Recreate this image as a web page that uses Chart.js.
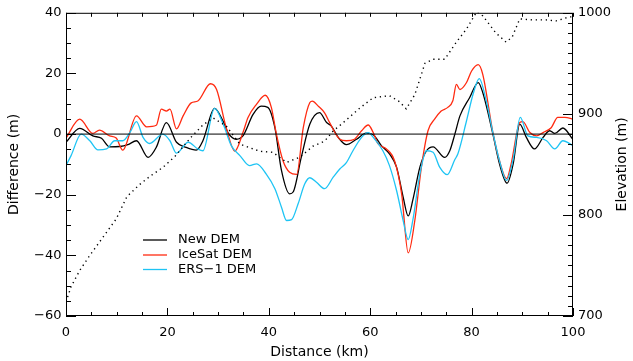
<!DOCTYPE html>
<html>
<head>
<meta charset="utf-8">
<script src="https://cdn.jsdelivr.net/npm/chart.js@4"></script>
<style>
  html, body { margin: 0; padding: 0; background: #fff; }
  #wrap { width: 633px; height: 361px; }
</style>
</head>
<body>
<div id="wrap"><canvas id="c" width="633" height="361"></canvas></div>
<script>
// tick labels
const xTicks = [0, 20, 40, 60, 80, 100];
const diffTicks = [-60, -40, -20, 0, 20, 40];
const elevTicks = [700, 800, 900, 1000];

// New DEM difference (m)
const newDemKm = [0, 2.7, 5.3, 7, 8.6, 10.6, 12.2, 13.9, 16.2, 17.8, 19.8, 21.8, 23.7, 25.7, 27, 29.3, 31, 32, 33.6, 34.9, 36.9, 38.5, 39.8, 41.2, 42.5, 44.1, 44.8, 46.4, 48.1, 50, 51.4, 52.3, 53.7, 55.3, 57.3, 59.2, 60.6, 62.2, 63.8, 65.2, 66.5, 67.5, 68.4, 69.8, 71.1, 72.4, 74.7, 75.7, 76.7, 77.7, 79.6, 81.3, 82.2, 84.2, 85.5, 87, 88.2, 89.5, 90.8, 92.4, 94.1, 95.4, 96.4, 98, 100];
const newDem = [-2.7, 1.9, -0.6, -1.4, -4.2, -4.1, -3.5, -2.2, -7.7, -4.4, 3.8, -2.7, -4.4, -5.3, -2.2, 8.5, 4.2, 0.3, -1.7, -0.6, 6.5, 9.2, 8.8, 2.1, -12, -19.7, -19.1, -7.7, 3.3, 7.1, 3.8, 2.7, -1.1, -3.5, -1.7, 0.3, -0.2, -3.8, -6.5, -10.9, -20.8, -27, -21.8, -10.9, -5.5, -4.2, -7.7, -5.5, 0, 6, 12, 17, 13.7, 0, -9.8, -16.2, -9.8, 3.3, -1.1, -4.9, -1.1, 1.1, 0.2, 2, -1.8];

// IceSat DEM difference (m)
const iceSatKm = [0, 2.7, 5.3, 6.6, 8.6, 9.9, 11.2, 13.9, 15.9, 17.8, 18.8, 19.8, 20.5, 21.8, 23.1, 24.7, 26, 28.5, 29.7, 31.6, 33.3, 34.9, 35.9, 37.6, 39.3, 40.5, 41.5, 42.8, 44.1, 45.5, 46.8, 48.1, 48.6, 49.7, 51, 52, 54, 55.3, 56.9, 58.3, 59.6, 60.6, 61.5, 63.2, 64.8, 66.2, 67.5, 68.8, 70.1, 71.4, 72.7, 74, 75.3, 76.3, 77, 77.7, 79, 80, 81.3, 82.2, 84.2, 85.5, 86.9, 87.8, 89.5, 90.1, 91.5, 92.8, 94.1, 95.7, 97, 98.4, 100];
const iceSat = [-1.3, 4.9, 0.2, 1.3, -0.6, -1.3, -5.3, 6, 2.4, 2.9, 8.2, 7.6, 8.2, 1.7, 6, 10.3, 10.9, 16.6, 14.7, 2.1, -5.6, 0.5, 5.5, 9.9, 12.8, 8.8, 0, -8.8, -12.6, -13.3, 2.1, 10.4, 10.9, 9.3, 7, 3.8, -1.7, -2.2, -1.7, 1.1, 3, 0.5, -3.1, -4.9, -8.8, -19.7, -39.2, -28.5, -10.9, 1.1, 4.9, 7.6, 8.8, 11, 16.4, 14.7, 17, 20.8, 22.9, 19.7, 0.5, -8.8, -14.7, -9.8, 3.8, 4.1, 0.5, -0.6, 0.5, 2.1, 5.5, 5.5, 4.9];

// ERS-1 DEM difference (m)
const ersKm = [0, 1, 3, 4.7, 6.3, 8, 9.6, 11.2, 12.6, 13.9, 15.2, 16.5, 19.1, 20.5, 21.8, 24.1, 26, 27, 29.3, 31, 32.6, 34.3, 36.2, 37.6, 39.5, 41.2, 42.5, 43.5, 44.5, 45.8, 47.1, 48.1, 49.4, 51, 52.7, 54, 55.3, 56.6, 58.3, 59.6, 60.9, 62.5, 63.8, 65.2, 66.5, 67.5, 68.4, 69.8, 71.1, 72.4, 73.7, 75.2, 76.7, 77.3, 79, 80.3, 81.5, 82.9, 84.2, 85.5, 86.9, 88.2, 89.6, 91.1, 92.8, 94.8, 96.4, 98, 100];
const ers = [-10.4, -7.1, 0, -2.2, -5.2, -4.9, -2.2, -2.2, 0.5, 4.1, -1.1, -3.1, 0, -2.2, -6.3, -2.7, -4.9, -5.5, 8.5, 3.3, -3.8, -7.1, -10.4, -9.8, -13.2, -18, -24.1, -28.5, -28.2, -22.9, -16.4, -14.4, -15.9, -18, -14.2, -11.5, -9.4, -5.5, -1.1, 0.5, -1.7, -5.5, -10.4, -18.6, -28.5, -34.8, -28.5, -13.2, -5.5, -6, -10.9, -13.4, -8.4, -6.5, 4.4, 13.2, 18.3, 10.9, 0.5, -8.8, -15.3, -8.2, 5.5, -0.6, -1.1, -2.2, -4.9, -2.2, -3.8];

// surface elevation (m), right axis
const elevKm = [0, 1, 2.7, 4.7, 7.3, 9.9, 12, 14.5, 16.5, 19.1, 21.5, 24.5, 27, 29, 31.6, 34.3, 38.2, 40.8, 43.5, 46.1, 48.7, 51, 52.7, 55.3, 58, 60.6, 63.8, 65.8, 67.1, 68.8, 70.8, 72.4, 74.7, 77, 79, 81, 82.2, 84.8, 86.8, 88, 89.5, 92, 94.7, 96.7, 99.3, 100];
const elev = [714, 729, 745, 760, 778, 796, 818, 830, 838, 847, 858, 876, 889, 896, 888, 870, 863, 862, 852, 857, 868, 873, 883, 894, 906, 916, 918, 912, 905, 919, 950, 954, 954, 971, 984, 1001, 997, 980, 971, 976, 994, 993, 993, 992, 996, 996];

const zeroKm = [0, 100];
const zeroLine = [0, 0];

function pts(xs, ys) { return xs.map((x, i) => ({ x: x, y: ys[i] })); }

const FONT = "'DejaVu Sans', sans-serif";

const boxPlugin = {
  id: 'box',
  afterDraw(chart) {
    const ctx = chart.ctx, a = chart.chartArea;
    const sx = chart.scales.x, sy = chart.scales.y, s2 = chart.scales.y2;
    ctx.save();
    ctx.strokeStyle = '#000';
    ctx.lineWidth = 1;
    ctx.strokeRect(a.left + 0.5, a.top + 0.5, a.right - a.left - 1, a.bottom - a.top - 1);
    ctx.beginPath();
    for (let v = 0; v <= 100; v += 5) {
      const px = Math.round(sx.getPixelForValue(v)) + 0.5;
      const major = v % 20 === 0;
      ctx.moveTo(px, a.bottom); ctx.lineTo(px, a.bottom - (major ? 8 : 4));
      ctx.moveTo(px, a.top); ctx.lineTo(px, a.top + 4);
    }
    for (let v = -60; v <= 40; v += 5) {
      const py = Math.round(sy.getPixelForValue(v)) + 0.5;
      ctx.moveTo(a.left, py); ctx.lineTo(a.left + (v % 20 === 0 ? 10 : 5), py);
    }
    for (let v = 700; v <= 1000; v += 10) {
      const py = Math.round(s2.getPixelForValue(v)) + 0.5;
      ctx.moveTo(a.right, py); ctx.lineTo(a.right - (v % 100 === 0 ? 10 : 5), py);
    }
    ctx.stroke();

    // axis titles
    ctx.fillStyle = '#000';
    ctx.font = '14px ' + FONT;
    ctx.textAlign = 'center';
    ctx.textBaseline = 'middle';
    ctx.fillText('Distance (km)', (a.left + a.right) / 2, 352);
    const midY = (a.top + a.bottom) / 2;
    ctx.save(); ctx.translate(14, midY); ctx.rotate(-Math.PI / 2);
    ctx.fillText('Difference (m)', 0, 0); ctx.restore();
    ctx.save(); ctx.translate(622, midY); ctx.rotate(-Math.PI / 2);
    ctx.fillText('Elevation (m)', 0, 0); ctx.restore();

    // legend
    const items = [['New DEM', '#000000', 240], ['IceSat DEM', '#ff2a10', 255], ['ERS-1 DEM', '#1ec4f4', 269.5]];
    ctx.font = '13px ' + FONT;
    ctx.textAlign = 'left';
    ctx.lineWidth = 1.3;
    items.forEach(([label, col, y]) => {
      ctx.strokeStyle = col;
      ctx.beginPath(); ctx.moveTo(143, y); ctx.lineTo(167, y); ctx.stroke();
      ctx.fillText(label.replace('-', '\u2212'), 178, y);
    });
    ctx.restore();
  }
};

const tickFont = { family: FONT, size: 13 };

new Chart(document.getElementById('c'), {
  type: 'line',
  data: {
    datasets: [
      { data: pts(zeroKm, zeroLine), borderColor: '#000', borderWidth: 1, yAxisID: 'y', tension: 0 },
      { data: pts(elevKm, elev), borderColor: '#000', borderWidth: 1.4, borderDash: [1.3, 3.7], yAxisID: 'y2', tension: 0 },
      { data: pts(ersKm, ers), borderColor: '#1ec4f4', borderWidth: 1.3, yAxisID: 'y', cubicInterpolationMode: 'monotone' },
      { data: pts(iceSatKm, iceSat), borderColor: '#ff2a10', borderWidth: 1.3, yAxisID: 'y', cubicInterpolationMode: 'monotone' },
      { data: pts(newDemKm, newDem), borderColor: '#000', borderWidth: 1.3, yAxisID: 'y', cubicInterpolationMode: 'monotone' }
    ]
  },
  options: {
    responsive: false,
    devicePixelRatio: 1,
    animation: false,
    layout: { padding: { top: 11, left: 0, right: 0, bottom: 0 } },
    elements: { point: { radius: 0, hoverRadius: 0 } },
    plugins: { legend: { display: false }, tooltip: { enabled: false } },
    scales: {
      x: {
        type: 'linear', position: 'bottom', min: 0, max: 100,
        grid: { display: false, drawTicks: false }, border: { display: false },
        ticks: { font: tickFont, color: '#000', padding: 9, maxRotation: 0, callback: v => String(v) },
        afterBuildTicks: s => { s.ticks = xTicks.map(v => ({ value: v })); },
        afterFit: s => { s.height = 45; }
      },
      y: {
        type: 'linear', position: 'left', min: -60, max: 40,
        grid: { display: false, drawTicks: false }, border: { display: false },
        ticks: { font: tickFont, color: '#000', padding: 4.5, callback: v => String(v).replace('-', '\u2212') },
        afterBuildTicks: s => { s.ticks = diffTicks.map(v => ({ value: v })); },
        afterFit: s => { s.width = 66; }
      },
      y2: {
        type: 'linear', position: 'right', min: 700, max: 1000,
        grid: { display: false, drawTicks: false }, border: { display: false },
        ticks: { font: tickFont, color: '#000', padding: 5, callback: v => String(v) },
        afterBuildTicks: s => { s.ticks = elevTicks.map(v => ({ value: v })); },
        afterFit: s => { s.width = 60; }
      }
    }
  },
  plugins: [boxPlugin]
});
</script>
</body>
</html>
